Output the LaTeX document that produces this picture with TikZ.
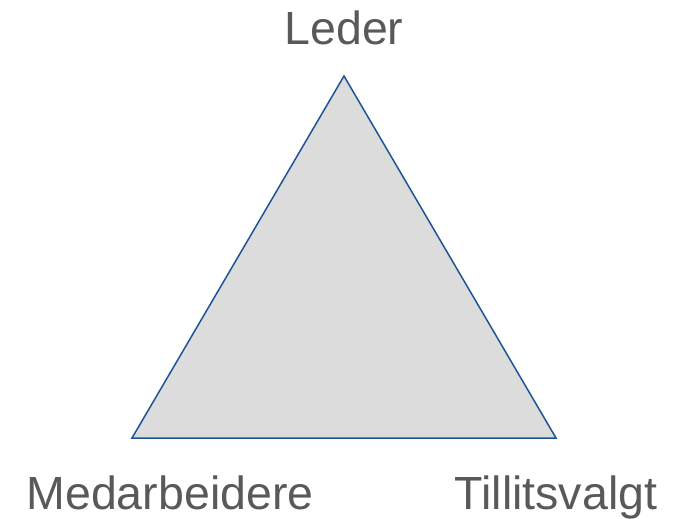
\documentclass[tikz,border=0pt]{standalone}
\usepackage{fontspec}
\setmainfont{Liberation Sans}
\definecolor{tri}{HTML}{DCDCDC}
\definecolor{edge}{HTML}{1F5497}
\definecolor{txt}{HTML}{595959}
\begin{document}
\begin{tikzpicture}[x=1pt,y=-1pt,
  lbl/.style={anchor=base,inner sep=0pt,text=txt,font=\fontsize{46.5}{52}\selectfont}]
\useasboundingbox (0,0) rectangle (677,519);
\coordinate (top) at (344,76);
\coordinate (bl) at (132,438);
\coordinate (br) at (556,438);
\filldraw[fill=tri,draw=edge,line width=1.5pt,line join=miter] (top) -- (bl) -- (br) -- cycle;
\node[lbl] (leder) at (344,45) {Leder};
\node[lbl] (med) at (170,509) {Medarbeidere};
\node[lbl] (till) at (556,509) {Tillitsvalgt};
\end{tikzpicture}
\end{document}
